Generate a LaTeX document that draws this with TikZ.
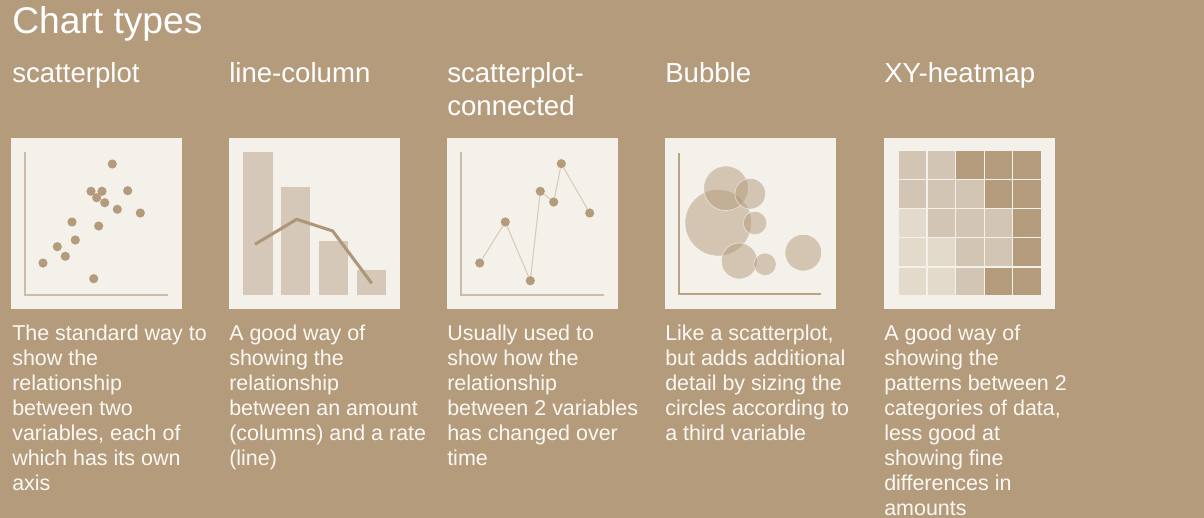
\documentclass[tikz,border=0pt]{standalone}
\usepackage{fontspec}
\setmainfont{Liberation Sans}
\usepackage{tikz}

\definecolor{chartbg}{HTML}{B49B7C}
\definecolor{panelbg}{HTML}{F4F0EA}
\definecolor{axislight}{HTML}{CBBBA7}
\definecolor{axisdark}{HTML}{B9A386}
\definecolor{colfill}{HTML}{D5C8B8}
\definecolor{ratecol}{HTML}{AD9679}
\definecolor{linkcol}{HTML}{D9CBB9}
\definecolor{textwhite}{HTML}{FBF8F3}
\definecolor{hdark}{HTML}{B49B7C}
\definecolor{hmid}{HTML}{D3C5B3}
\definecolor{hlight}{HTML}{E4DACC}

\begin{document}
\begin{tikzpicture}[x=0.75pt, y=-0.75pt,
  heading/.style={anchor=base west, inner sep=0, text=white, align=left, font=\fontsize{20.7}{24.75}\selectfont},
  blurb/.style={anchor=base west, inner sep=0, text=textwhite, align=left, font=\fontsize{16.1}{18.75}\selectfont},
  axis/.style={draw=axislight, line width=0.9pt},
  scatdot/.style={circle, fill=chartbg, inner sep=0, minimum size=6.9pt},
  bubble/.style={fill=chartbg, fill opacity=0.5, draw=white, draw opacity=0.55, line width=0.5pt}]
	\fill[chartbg] (0,0) rectangle (1204,518);
	\node[anchor=base west, inner sep=0, text=white, font=\fontsize{27.9}{30}\selectfont] (title) at (12,33) {Chart types};
	% headings (multi-line nodes sit on the baseline of their last line)
	\node[heading] (head1) at (12,82) {scatterplot};
	\node[heading] (head2) at (229,82) {line-column};
	\node[heading] (head3) at (447,115) {scatterplot-\\connected};
	\node[heading] (head4) at (665,82) {Bubble};
	\node[heading] (head5) at (884,82) {XY-heatmap};
	% panels
	\fill[panelbg] (11,138) rectangle +(171,171);
	\fill[panelbg] (229,138) rectangle +(171,171);
	\fill[panelbg] (447,138) rectangle +(171,171);
	\fill[panelbg] (665,138) rectangle +(171,171);
	\fill[panelbg] (884,138) rectangle +(171,171);
	% scatterplot
	\draw[axis] (25,152) -- (25,295) -- (168,295);
	\node[scatdot] (s1) at (112.3,164) {};
	\node[scatdot] (s2) at (91,191.3) {};
	\node[scatdot] (s3) at (102,191.3) {};
	\node[scatdot] (s4) at (96.7,197.7) {};
	\node[scatdot] (s5) at (127.7,190.7) {};
	\node[scatdot] (s6) at (104.7,202.7) {};
	\node[scatdot] (s7) at (117.3,209.3) {};
	\node[scatdot] (s8) at (140.3,213) {};
	\node[scatdot] (s9) at (72,222) {};
	\node[scatdot] (s10) at (98.7,226) {};
	\node[scatdot] (s11) at (75.3,240) {};
	\node[scatdot] (s12) at (57.3,246.7) {};
	\node[scatdot] (s13) at (65.3,256.3) {};
	\node[scatdot] (s14) at (43,263) {};
	\node[scatdot] (s15) at (93.7,278.7) {};
	% line-column
	\fill[colfill] (243.3,152.3) rectangle (272.7,295);
	\fill[colfill] (281,186.7) rectangle (310.3,295);
	\fill[colfill] (319,240.7) rectangle (348.3,295);
	\fill[colfill] (357,270) rectangle (386,295);
	\draw[ratecol, line width=2.3pt] (255,244.3) -- (296.7,219.3) -- (332.7,231) -- (371.7,283.3);
	% scatterplot-connected
	\draw[axis] (461,152) -- (461,295) -- (604,295);
	\node[scatdot] (c1) at (479.7,263) {};
	\node[scatdot] (c2) at (505.3,222) {};
	\node[scatdot] (c3) at (530.3,280.7) {};
	\node[scatdot] (c4) at (540.3,191.3) {};
	\node[scatdot] (c5) at (553.7,202) {};
	\node[scatdot] (c6) at (561.3,163.7) {};
	\node[scatdot] (c7) at (589.7,213) {};
	\draw[linkcol, line width=0.8pt] (c1) -- (c2) -- (c3) -- (c4) -- (c5) -- (c6) -- (c7);
	% bubble
	\draw[axis, draw=axisdark] (679,153) -- (679,294) -- (821,294);
	\fill[bubble] (718.3,222.7) circle (33.3);
	\fill[bubble] (726,188.3) circle (22.3);
	\fill[bubble] (750.3,193.7) circle (15.3);
	\fill[bubble] (755,223) circle (11.7);
	\fill[bubble] (739.3,261) circle (18);
	\fill[bubble] (765,264.3) circle (11.2);
	\fill[bubble] (803.3,252.7) circle (18.3);
	% xy-heatmap
	\foreach \i/\hc in {0/hmid,1/hmid,2/hdark,3/hdark,4/hdark} \fill[\hc] ({899+28.6*\i},150.7) rectangle +(27.3,27.9);
	\foreach \i/\hc in {0/hmid,1/hmid,2/hmid,3/hdark,4/hdark} \fill[\hc] ({899+28.6*\i},179.9) rectangle +(27.3,27.9);
	\foreach \i/\hc in {0/hlight,1/hmid,2/hmid,3/hmid,4/hdark} \fill[\hc] ({899+28.6*\i},209.1) rectangle +(27.3,27.9);
	\foreach \i/\hc in {0/hlight,1/hlight,2/hmid,3/hmid,4/hdark} \fill[\hc] ({899+28.6*\i},238.3) rectangle +(27.3,27.9);
	\foreach \i/\hc in {0/hlight,1/hlight,2/hmid,3/hdark,4/hdark} \fill[\hc] ({899+28.6*\i},267.5) rectangle +(27.3,27.9);
	% descriptions
	\node[blurb] (blurb1) at (12,490) {The standard way to\\show the\\relationship\\between two\\variables, each of\\which has its own\\axis};
	\node[blurb] (blurb2) at (229,465) {A good way of\\showing the\\relationship\\between an amount\\(columns) and a rate\\(line)};
	\node[blurb] (blurb3) at (447,465) {Usually used to\\show how the\\relationship\\between 2 variables\\has changed over\\time};
	\node[blurb] (blurb4) at (665,440) {Like a scatterplot,\\but adds additional\\detail by sizing the\\circles according to\\a third variable};
	\node[blurb] (blurb5) at (884,515) {A good way of\\showing the\\patterns between 2\\categories of data,\\less good at\\showing fine\\differences in\\amounts};
\end{tikzpicture}
\end{document}
